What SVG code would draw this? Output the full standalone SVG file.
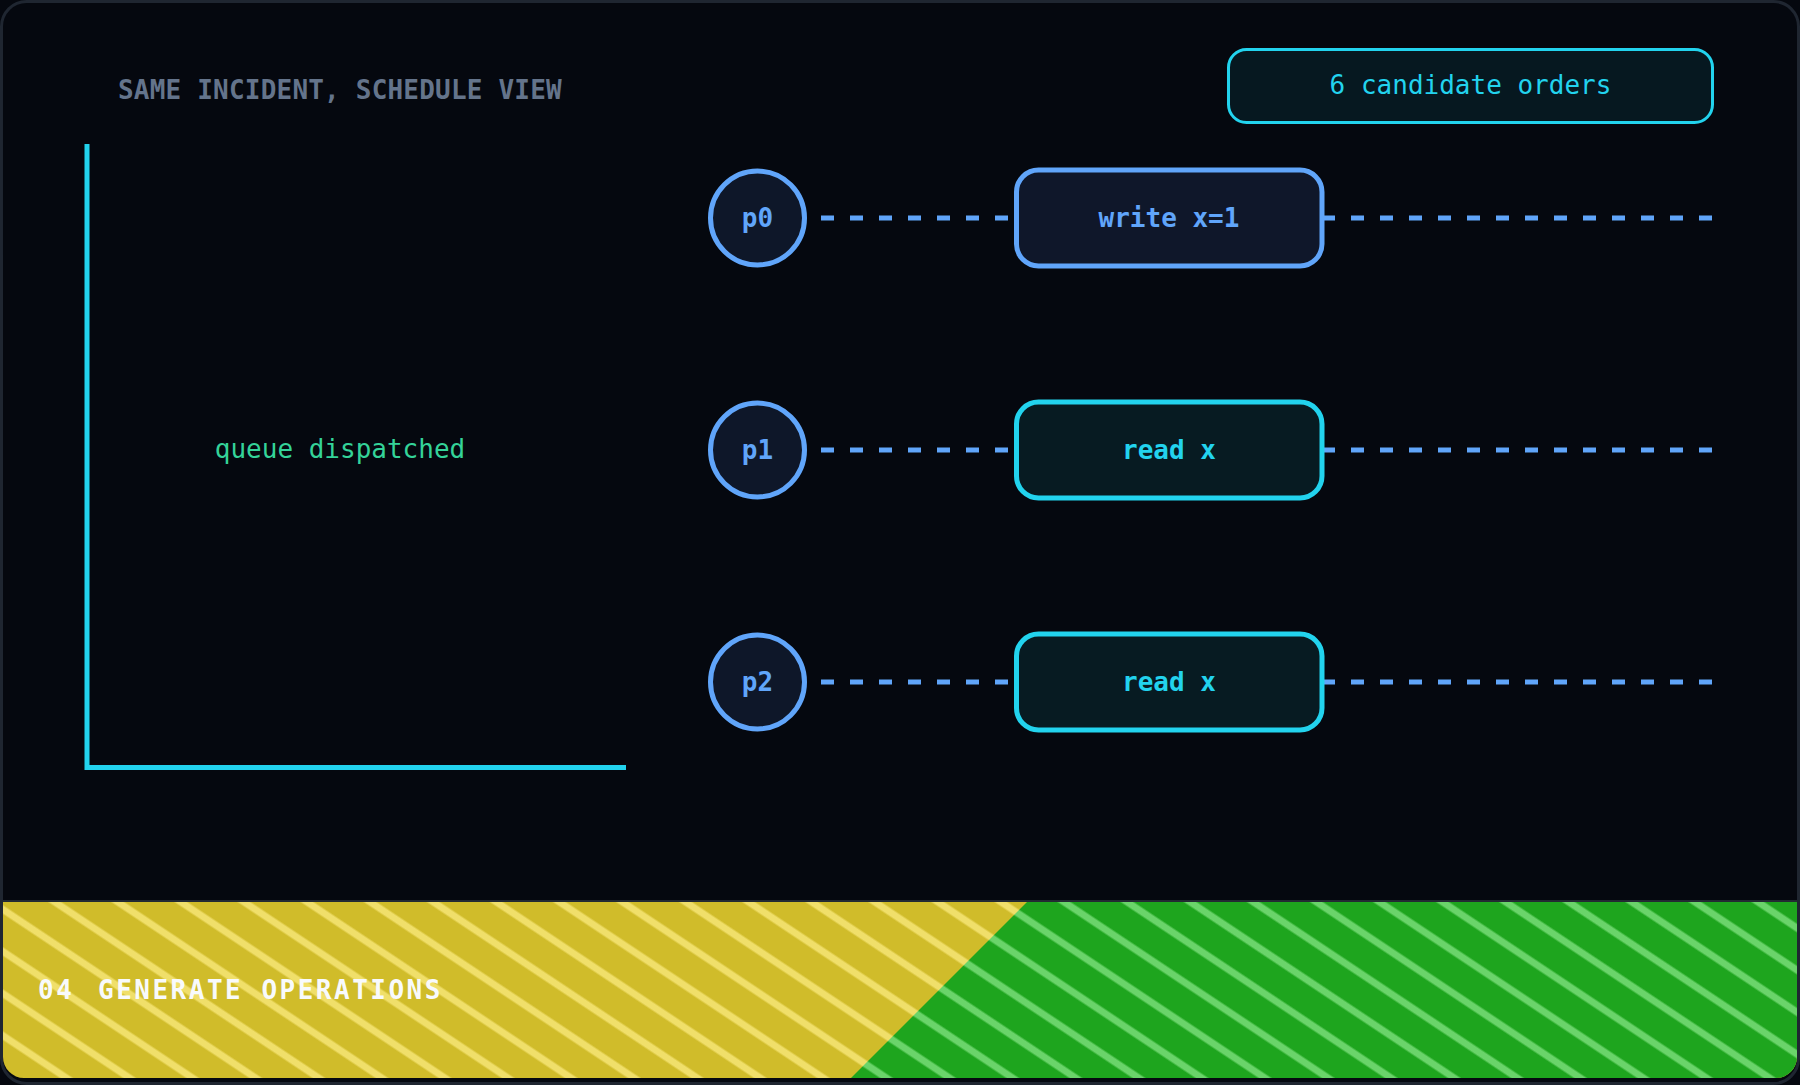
<svg xmlns="http://www.w3.org/2000/svg" width="1800" height="1085" viewBox="0 0 1800 1085">
  <style>
    .mono { font-family: "DejaVu Sans Mono", "Liberation Mono", monospace; font-size: 26px; }
    .b { font-weight: bold; }
    .proc circle { fill: #0e1729; stroke: #60a5fa; stroke-width: 5; }
    .proc text { fill: #60a5fa; text-anchor: middle; }
    .op rect { stroke-width: 5; }
    .op.blue rect { fill: #0f172a; stroke: #60a5fa; }
    .op.cyan rect { fill: #071b22; stroke: #22d3ee; }
    .op.blue text { fill: #60a5fa; text-anchor: middle; }
    .op.cyan text { fill: #22d3ee; text-anchor: middle; }
    .lane { stroke: #60a5fa; stroke-width: 5; stroke-dasharray: 13 16; fill: none; }
  </style>
  <defs>
    <clipPath id="frameClip">
      <rect x="3" y="3" width="1794" height="1075" rx="21"/>
    </clipPath>
    <pattern id="stripeY" patternUnits="userSpaceOnUse" width="20" height="35" patternTransform="rotate(33.7)">
      <rect x="0" y="0" width="20" height="35" fill="#d0bc2a"/>
      <rect x="0" y="16.5" width="20" height="7" fill="#f0df6a"/>
    </pattern>
    <pattern id="stripeG" patternUnits="userSpaceOnUse" width="20" height="35" patternTransform="rotate(33.7)">
      <rect x="0" y="0" width="20" height="35" fill="#1ea51e"/>
      <rect x="0" y="16.5" width="20" height="7" fill="#6ad46a"/>
    </pattern>
  </defs>

  <rect x="0" y="0" width="1800" height="1085" fill="#05080f"/>
  <rect x="1.5" y="1.5" width="1797" height="1082" rx="25" fill="#05080f" stroke="#1f2631" stroke-width="3"/>

  <g id="title">
    <text class="mono b" x="118" y="99" fill="#64748b" letter-spacing="0.2">SAME INCIDENT, SCHEDULE VIEW</text>
  </g>

  <g id="badge">
    <rect x="1228.5" y="49.5" width="484" height="73" rx="18" fill="#061820" stroke="#22d3ee" stroke-width="3"/>
    <text class="mono" x="1470.5" y="94" fill="#22d3ee" text-anchor="middle">6 candidate orders</text>
  </g>

  <g id="axis">
    <path d="M87,144 V767.5 H626" fill="none" stroke="#22d3ee" stroke-width="5" stroke-linejoin="miter"/>
    <text class="mono" x="340" y="458" fill="#34d399" text-anchor="middle">queue dispatched</text>
  </g>

  <g id="connectors">
    <line class="lane" x1="821" y1="218" x2="1016" y2="218"/>
    <line class="lane" x1="1322" y1="218" x2="1713" y2="218"/>
    <line class="lane" x1="821" y1="450" x2="1016" y2="450"/>
    <line class="lane" x1="1322" y1="450" x2="1713" y2="450"/>
    <line class="lane" x1="821" y1="682" x2="1016" y2="682"/>
    <line class="lane" x1="1322" y1="682" x2="1713" y2="682"/>
  </g>

  <g id="p0" class="proc">
    <circle cx="757.5" cy="218" r="47"/>
    <text class="mono b" x="757.5" y="227">p0</text>
  </g>
  <g id="p1" class="proc">
    <circle cx="757.5" cy="450" r="47"/>
    <text class="mono b" x="757.5" y="459">p1</text>
  </g>
  <g id="p2" class="proc">
    <circle cx="757.5" cy="682" r="47"/>
    <text class="mono b" x="757.5" y="691">p2</text>
  </g>

  <g id="op0" class="op blue">
    <rect x="1016.5" y="170" width="305.5" height="96" rx="22"/>
    <text class="mono b" x="1169" y="227">write x=1</text>
  </g>
  <g id="op1" class="op cyan">
    <rect x="1016.5" y="402" width="305.5" height="96" rx="22"/>
    <text class="mono b" x="1169" y="459">read x</text>
  </g>
  <g id="op2" class="op cyan">
    <rect x="1016.5" y="634" width="305.5" height="96" rx="22"/>
    <text class="mono b" x="1169" y="691">read x</text>
  </g>

  <g id="footer" clip-path="url(#frameClip)">
    <rect x="0" y="902" width="1800" height="183" fill="url(#stripeY)"/>
    <polygon points="1027,902 1800,902 1800,1085 844,1085" fill="url(#stripeG)"/>
    <line x1="0" y1="901" x2="1800" y2="901" stroke="#232a33" stroke-width="2"/>
    <text class="mono b" y="999" fill="#f8fafc" letter-spacing="2.5"><tspan x="38">04</tspan><tspan x="98">GENERATE OPERATIONS</tspan></text>
  </g>
</svg>
